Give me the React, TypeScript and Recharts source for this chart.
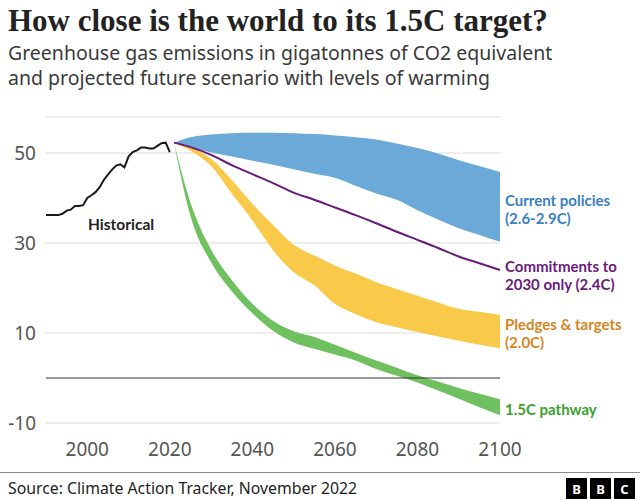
import React from 'react';
import { ComposedChart, Area, Line, XAxis, YAxis, CartesianGrid, ReferenceLine } from 'recharts';

// historical emissions, GtCO2e
const histYears = [1990, 1991, 1992, 1993, 1994, 1995, 1996, 1997, 1998, 1999, 2000, 2001, 2002, 2003, 2004, 2005, 2006, 2007, 2008, 2009, 2010, 2011, 2012, 2013, 2014, 2015, 2016, 2017, 2018, 2019, 2020];
const histValues = [36.2, 36.2, 36.2, 36.2, 36.5, 37.2, 37.4, 38.2, 38.2, 38.4, 40, 40.6, 41.3, 42.4, 44, 45.2, 46.3, 47.2, 47.5, 46.8, 49.2, 50.2, 50.6, 51.2, 51.2, 51.0, 51.0, 51.6, 52.2, 52.3, 50.2];

// projected scenarios
const projYears = [2021, 2025, 2030, 2035, 2040, 2045, 2050, 2055, 2060, 2065, 2070, 2075, 2080, 2085, 2090, 2095, 2100];
const currentLow = [52.3, 51.2, 50.1, 49.2, 48.3, 47.4, 46.4, 45.4, 44.5, 42.7, 41, 39.6, 37.3, 35.2, 33.3, 31.8, 30.3];
const currentHigh = [52.3, 53.5, 54.1, 54.4, 54.5, 54.5, 54.4, 54.2, 53.9, 53.5, 53, 52.1, 51.1, 49.9, 48.4, 47.1, 45.8];
const commitments = [52.3, 51.3, 49.6, 47.3, 45.3, 43.3, 41.2, 39.6, 37.9, 36.2, 34.4, 32.5, 30.7, 28.9, 27, 25.5, 24];
const pledgesLow = [52.3, 50.5, 47.1, 41, 35, 28.4, 23.5, 20.6, 16.5, 14.2, 12.4, 11.3, 10.2, 9.2, 8.3, 7.4, 6.6];
const pledgesHigh = [52.3, 51.3, 48.7, 44, 38.7, 34, 29.6, 27.2, 25, 23.2, 21.3, 19.8, 18.3, 16.8, 15.4, 14.7, 14];
const pathwayLow = [52.3, 36, 25.7, 19.3, 14.4, 10.5, 7.9, 6.5, 5.2, 3.9, 2.0, 0.5, -1.0, -2.8, -4.6, -6.5, -8.3];
const pathwayHigh = [52.3, 39, 28.5, 21.8, 16.5, 12.7, 10.4, 9.1, 7.4, 5.6, 3.9, 2.3, 0.6, -0.8, -2.2, -3.5, -4.7];

const xTicks = [2000, 2020, 2040, 2060, 2080, 2100];
const yTicks = [-10, 10, 30, 50];

const histData = histYears.map((year, i) => ({ year, historical: histValues[i] }));
const projData = projYears.map((year, i) => ({
  year,
  current: [currentLow[i], currentHigh[i]],
  commitments: commitments[i],
  pledges: [pledgesLow[i], pledgesHigh[i]],
  pathway: [pathwayLow[i], pathwayHigh[i]],
}));
const data = [...histData, ...projData];

const sans = '"Noto Sans", sans-serif';
const labelFont = 'Lato, "Noto Sans", sans-serif';
const tickStyle = { fill: '#555', fontSize: 19, fontFamily: sans };

export default function App() {
  return (
    <div style={{ position: 'absolute', left: 0, top: 0, width: 640, height: 500, background: '#fff' }}>
      <ComposedChart width={640} height={500} data={data} margin={{ top: 117, right: 140, bottom: 37, left: 0 }}>
        <CartesianGrid horizontal vertical={false} stroke="#dcdcdc" />
        <XAxis
          dataKey="year"
          type="number"
          domain={[1990, 2100]}
          ticks={xTicks}
          axisLine={false}
          tickLine={false}
          tickSize={0}
          tickMargin={20}
          height={40}
          tick={tickStyle}
        />
        <YAxis
          type="number"
          domain={[-10, 58]}
          ticks={yTicks}
          allowDataOverflow
          axisLine={false}
          tickLine={false}
          tickSize={0}
          tickMargin={10}
          width={46}
          tick={tickStyle}
        />
        <ReferenceLine y={0} stroke="#333" strokeWidth={1} />
        <Area dataKey="current" type="monotone" fill="#6aa9d8" fillOpacity={1} stroke="none" isAnimationActive={false} />
        <Area dataKey="pledges" type="monotone" fill="#f9c94a" fillOpacity={1} stroke="none" isAnimationActive={false} />
        <Area dataKey="pathway" type="monotone" fill="#6fc160" fillOpacity={1} stroke="none" isAnimationActive={false} />
        <Line dataKey="commitments" type="monotone" stroke="#6a1b7a" strokeWidth={2} dot={false} isAnimationActive={false} />
        <Line dataKey="historical" type="linear" stroke="#1a1a1a" strokeWidth={2} dot={false} isAnimationActive={false} />
      </ComposedChart>
      <svg width={640} height={500} style={{ position: 'absolute', left: 0, top: 0, pointerEvents: 'none' }}>
        <text x={8} y={31} fontFamily='"Liberation Serif", serif' fontWeight={700} fontSize={31} fill="#222">
          How close is the world to its 1.5C target?
        </text>
        <text x={8} y={60} fontFamily={sans} fontSize={19.5} fill="#3a3a3a">
          Greenhouse gas emissions in gigatonnes of CO2 equivalent
        </text>
        <text x={8} y={85} fontFamily={sans} fontSize={19.5} fill="#3a3a3a">
          and projected future scenario with levels of warming
        </text>

        <text x={88} y={230} fontFamily={labelFont} fontWeight={700} fontSize={15.5} fill="#222">Historical</text>

        <g fontFamily={labelFont} fontWeight={700} fontSize={15}>
          <text x={505} y={206} fill="#3a80c2">Current policies</text>
          <text x={505} y={224} fill="#3a80c2">(2.6-2.9C)</text>
          <text x={505} y={272} fill="#6a1b7a">Commitments to</text>
          <text x={505} y={290} fill="#6a1b7a">2030 only (2.4C)</text>
          <text x={505} y={330} fill="#d4861f">Pledges &amp; targets</text>
          <text x={505} y={348} fill="#d4861f">(2.0C)</text>
          <text x={505} y={415} fill="#3c9f2e">1.5C pathway</text>
        </g>

        <line x1={0} x2={640} y1={472.5} y2={472.5} stroke="#8a8a8a" strokeWidth={1} />
        <text x={8} y={494} fontFamily={sans} fontSize={15.8} fill="#222">
          Source: Climate Action Tracker, November 2022
        </text>
        <g fontFamily={sans} fontWeight={700} fontSize={13} fill="#fff" textAnchor="middle">
          {['B', 'B', 'C'].map((ch, i) => (
            <g key={i}>
              <rect x={566 + i * 24} y={478} width={21} height={21} fill="#000" />
              <text x={576.5 + i * 24} y={493.5}>{ch}</text>
            </g>
          ))}
        </g>
      </svg>
    </div>
  );
}
